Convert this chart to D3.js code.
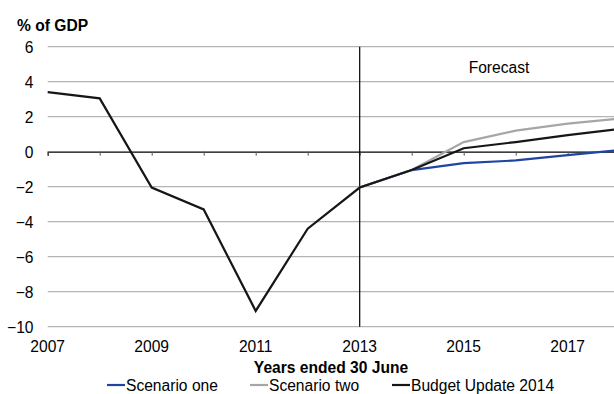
<!DOCTYPE html>
<html>
<head>
<meta charset="utf-8">
<script src="https://cdn.jsdelivr.net/npm/d3@7/dist/d3.min.js"></script>
<style>
  html, body { margin: 0; padding: 0; background: #fff; overflow: hidden; }
  svg { display: block; font-family: "Liberation Sans", Arial, sans-serif; }
</style>
</head>
<body>
<svg id="chart" width="614" height="394"></svg>
<script>
// Fiscal balance, % of GDP, years ended 30 June
const years = [2007, 2008, 2009, 2010, 2011, 2012, 2013, 2014, 2015, 2016, 2017, 2018];
const budgetUpdate2014 = [3.4, 3.05, -2.05, -3.3, -9.1, -4.4, -2.05, -1.05, 0.2, 0.55, 0.95, 1.3];
const forecastYears = [2013, 2014, 2015, 2016, 2017, 2018];
const scenarioOne = [-2.05, -1.05, -0.65, -0.5, -0.2, 0.1];
const scenarioTwo = [-2.05, -1.05, 0.55, 1.2, 1.6, 1.9];
const yTicks = [6, 4, 2, 0, -2, -4, -6, -8, -10];
const xTickLabels = [2007, 2009, 2011, 2013, 2015, 2017];
const forecastStart = 2013;

const series = [
  { name: "Scenario one", x: forecastYears, y: scenarioOne, color: "#1f45a3" },
  { name: "Scenario two", x: forecastYears, y: scenarioTwo, color: "#a6a6a6" },
  { name: "Budget Update 2014", x: years, y: budgetUpdate2014, color: "#161616" }
];

const svg = d3.select("#chart");
const fontSize = 15.6;

const x = d3.scaleLinear().domain([2007, 2018]).range([47.7, 619.7]);
const y = d3.scaleLinear().domain([-10, 6]).range([326.7, 46.7]);

// horizontal gridlines
svg.append("g")
  .selectAll("line")
  .data(yTicks.filter(d => d !== 0))
  .join("line")
  .attr("x1", x(2007)).attr("x2", x(2018))
  .attr("y1", d => y(d)).attr("y2", d => y(d))
  .attr("stroke", "#b4b4b4").attr("stroke-width", 1.2);

// y tick labels
const yAxis = d3.axisLeft(y).tickValues(yTicks).tickSize(0).tickPadding(0)
  .tickFormat(d3.format("d"));
const gy = svg.append("g").attr("transform", "translate(33.5,0)").call(yAxis);
gy.select(".domain").remove();
gy.selectAll("text")
  .attr("font-size", fontSize).attr("font-family", "Liberation Sans, Arial, sans-serif")
  .attr("fill", "#000").attr("dy", "0.35em");

// zero line with yearly ticks
const xAxis = d3.axisBottom(x).tickValues(years).tickSize(4).tickFormat("");
const gx = svg.append("g").attr("transform", `translate(0,${y(0)})`).call(xAxis);
gx.select(".domain").attr("stroke", "#000").attr("stroke-width", 1.2);
gx.selectAll(".tick line").attr("stroke", "#555");

// x tick labels, every second year
svg.append("g")
  .selectAll("text")
  .data(xTickLabels)
  .join("text")
  .attr("x", d => x(d)).attr("y", 352)
  .attr("text-anchor", "middle")
  .attr("font-size", fontSize)
  .text(d => d);

// forecast divider
svg.append("line")
  .attr("x1", x(forecastStart)).attr("x2", x(forecastStart))
  .attr("y1", y(6)).attr("y2", y(-10))
  .attr("stroke", "#000").attr("stroke-width", 1.2);

svg.append("text")
  .attr("x", 499).attr("y", 72.5)
  .attr("text-anchor", "middle")
  .attr("font-size", fontSize)
  .text("Forecast");

// series lines
const line = d3.line().x(d => x(d[0])).y(d => y(d[1]));
svg.append("g")
  .selectAll("path")
  .data(series)
  .join("path")
  .attr("d", s => line(s.x.map((v, i) => [v, s.y[i]])))
  .attr("fill", "none")
  .attr("stroke", s => s.color)
  .attr("stroke-width", 2.2)
  .attr("stroke-linejoin", "miter");

// axis titles
svg.append("text")
  .attr("x", 17).attr("y", 31)
  .attr("font-size", fontSize).attr("font-weight", "bold")
  .text("% of GDP");

svg.append("text")
  .attr("x", 331).attr("y", 373)
  .attr("text-anchor", "middle")
  .attr("font-size", fontSize).attr("font-weight", "bold")
  .text("Years ended 30 June");

// legend
const legendX = [107, 250, 392];
const legend = svg.append("g")
  .selectAll("g")
  .data(series)
  .join("g")
  .attr("transform", (d, i) => `translate(${legendX[i]},0)`);
legend.append("line")
  .attr("x1", 0).attr("x2", 18)
  .attr("y1", 385).attr("y2", 385)
  .attr("stroke", d => d.color).attr("stroke-width", 2.2);
legend.append("text")
  .attr("x", 19).attr("y", 391)
  .attr("font-size", fontSize)
  .text(d => d.name);
</script>
</body>
</html>
